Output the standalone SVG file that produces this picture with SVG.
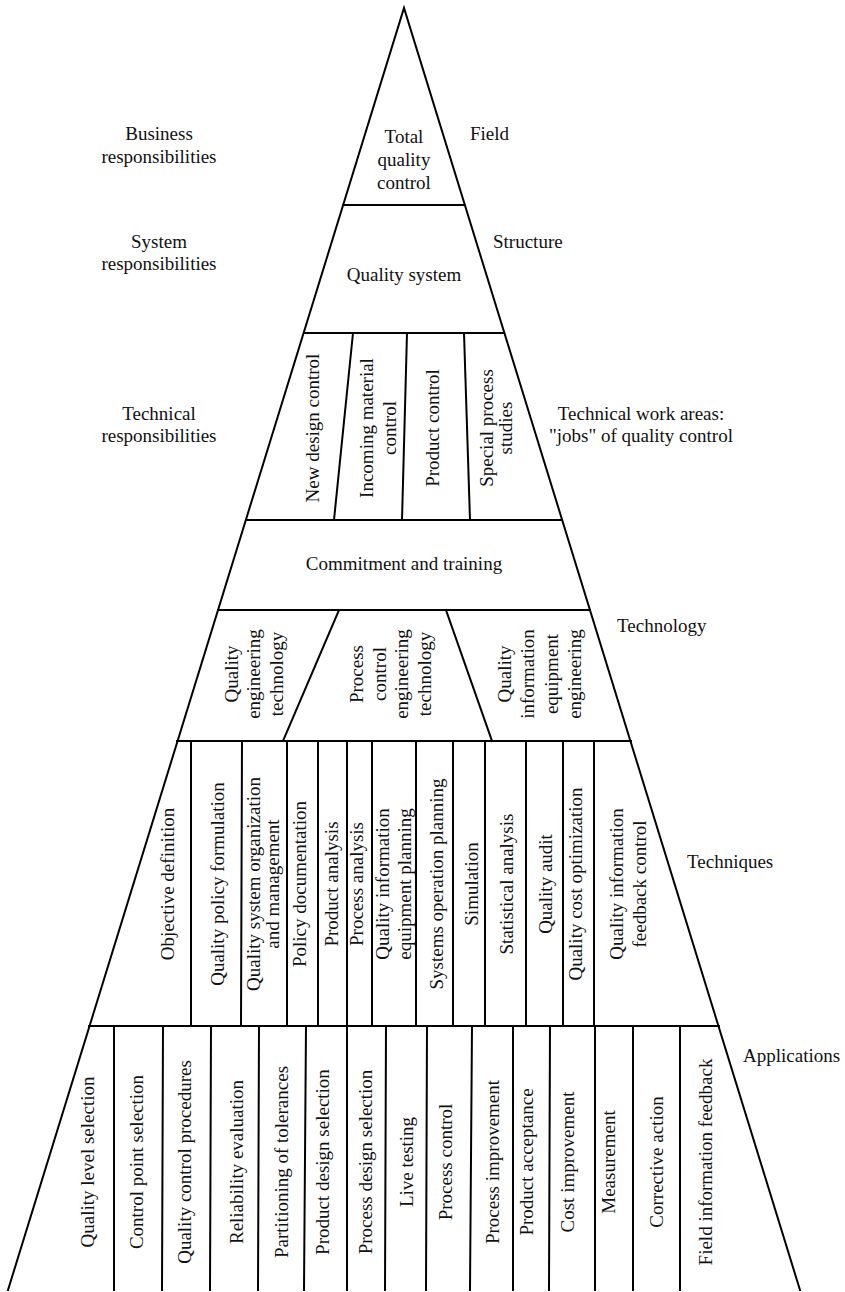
<svg xmlns="http://www.w3.org/2000/svg" width="845" height="1292" viewBox="0 0 845 1292">
<style>
.ln{stroke:#000;stroke-width:2;fill:none;stroke-linecap:square}
text{font-family:"Liberation Serif","Times New Roman",serif;font-size:19px;fill:#111}
.c{text-anchor:middle}
</style>
<rect width="845" height="1292" fill="#fff"/>
<g id="connectors">
<polyline class="ln" points="8,1290 404,8 800,1290"/>
<line class="ln" x1="343" y1="205" x2="465" y2="205"/>
<line class="ln" x1="304" y1="333" x2="504" y2="333"/>
<line class="ln" x1="247" y1="520" x2="561" y2="520"/>
<line class="ln" x1="218" y1="610" x2="590" y2="610"/>
<line class="ln" x1="177" y1="741" x2="631" y2="741"/>
<line class="ln" x1="89" y1="1026" x2="719" y2="1026"/>
<line class="ln" x1="353" y1="333" x2="334" y2="520"/>
<line class="ln" x1="407" y1="333" x2="402" y2="520"/>
<line class="ln" x1="464" y1="333" x2="470" y2="520"/>
<line class="ln" x1="339" y1="610" x2="283" y2="741"/>
<line class="ln" x1="446" y1="610" x2="492" y2="741"/>
<path class="ln" d="M191 741V1026M242 741L241 1026M287 741V1026M318 741V1026M347 741V1026M372 741V1026M416 741V1026M453 741V1026M485 741V1026M526 741V1026M563 741V1026M594 741V1026"/>
<path class="ln" d="M114 1026V1290M163 1026L162 1290M211 1026L210 1290M259 1026L258 1290M306 1026L304 1290M347 1026V1290M386 1026L385 1290M427 1026L426 1290M472 1026L470 1290M513 1026V1290M550 1026L549 1290M595 1026V1290M633 1026V1290M680 1026V1290"/>
</g>
<g id="side-labels">
<text class="c" x="159" y="140">Business</text>
<text class="c" x="159" y="163">responsibilities</text>
<text class="c" x="159" y="248">System</text>
<text class="c" x="159" y="270">responsibilities</text>
<text class="c" x="159" y="420">Technical</text>
<text class="c" x="159" y="442">responsibilities</text>
<text x="470" y="140">Field</text>
<text x="493" y="248">Structure</text>
<text class="c" x="641" y="420">Technical work areas:</text>
<text class="c" x="641" y="442">"jobs" of quality control</text>
<text x="617" y="632">Technology</text>
<text x="687" y="868">Techniques</text>
<text x="743" y="1062">Applications</text>
</g>
<g id="n-tqc">
<text class="c" x="404" y="143">Total</text>
<text class="c" x="404" y="166">quality</text>
<text class="c" x="404" y="189">control</text>
</g>
<g id="n-qs"><text class="c" x="404" y="281">Quality system</text></g>
<g id="n-technical">
<text class="c" transform="translate(319,428) rotate(-90)">New design control</text>
<text class="c" transform="translate(373,428) rotate(-90)">Incoming material</text>
<text class="c" transform="translate(396,428) rotate(-90)">control</text>
<text class="c" transform="translate(439,428) rotate(-90)">Product control</text>
<text class="c" transform="translate(493,428) rotate(-90)">Special process</text>
<text class="c" transform="translate(512,428) rotate(-90)">studies</text>
</g>
<g id="n-commit"><text class="c" x="404" y="570">Commitment and training</text></g>
<g id="n-technology">
<text class="c" transform="translate(238,674) rotate(-90)">Quality</text>
<text class="c" transform="translate(260,674) rotate(-90)">engineering</text>
<text class="c" transform="translate(283,674) rotate(-90)">technology</text>
<text class="c" transform="translate(363,674) rotate(-90)">Process</text>
<text class="c" transform="translate(386,674) rotate(-90)">control</text>
<text class="c" transform="translate(408,674) rotate(-90)">engineering</text>
<text class="c" transform="translate(431,674) rotate(-90)">technology</text>
<text class="c" transform="translate(511,674) rotate(-90)">Quality</text>
<text class="c" transform="translate(534,674) rotate(-90)">information</text>
<text class="c" transform="translate(558,674) rotate(-90)">equipment</text>
<text class="c" transform="translate(581,674) rotate(-90)">engineering</text>
</g>
<g id="n-techniques">
<text class="c" transform="translate(174,884) rotate(-90)">Objective definition</text>
<text class="c" transform="translate(224,884) rotate(-90)">Quality policy formulation</text>
<text class="c" transform="translate(260,884) rotate(-90)">Quality system organization</text>
<text class="c" transform="translate(279,884) rotate(-90)">and management</text>
<text class="c" transform="translate(306,884) rotate(-90)">Policy documentation</text>
<text class="c" transform="translate(338,884) rotate(-90)">Product analysis</text>
<text class="c" transform="translate(363,884) rotate(-90)">Process analysis</text>
<text class="c" transform="translate(389,884) rotate(-90)">Quality information</text>
<text class="c" transform="translate(411,884) rotate(-90)">equipment planning</text>
<text class="c" transform="translate(443,884) rotate(-90)">Systems operation planning</text>
<text class="c" transform="translate(478,884) rotate(-90)">Simulation</text>
<text class="c" transform="translate(513,884) rotate(-90)">Statistical analysis</text>
<text class="c" transform="translate(552,884) rotate(-90)">Quality audit</text>
<text class="c" transform="translate(582,884) rotate(-90)">Quality cost optimization</text>
<text class="c" transform="translate(623,884) rotate(-90)">Quality information</text>
<text class="c" transform="translate(646,884) rotate(-90)">feedback control</text>
</g>
<g id="n-applications">
<text class="c" transform="translate(94,1162) rotate(-90)">Quality level selection</text>
<text class="c" transform="translate(143,1162) rotate(-90)">Control point selection</text>
<text class="c" transform="translate(191,1162) rotate(-90)">Quality control procedures</text>
<text class="c" transform="translate(243,1162) rotate(-90)">Reliability evaluation</text>
<text class="c" transform="translate(288,1162) rotate(-90)">Partitioning of tolerances</text>
<text class="c" transform="translate(329,1162) rotate(-90)">Product design selection</text>
<text class="c" transform="translate(372,1162) rotate(-90)">Process design selection</text>
<text class="c" transform="translate(413,1162) rotate(-90)">Live testing</text>
<text class="c" transform="translate(452,1162) rotate(-90)">Process control</text>
<text class="c" transform="translate(499,1162) rotate(-90)">Process improvement</text>
<text class="c" transform="translate(533,1162) rotate(-90)">Product acceptance</text>
<text class="c" transform="translate(574,1162) rotate(-90)">Cost improvement</text>
<text class="c" transform="translate(615,1162) rotate(-90)">Measurement</text>
<text class="c" transform="translate(663,1162) rotate(-90)">Corrective action</text>
<text class="c" transform="translate(712,1162) rotate(-90)">Field information feedback</text>
</g>
</svg>
